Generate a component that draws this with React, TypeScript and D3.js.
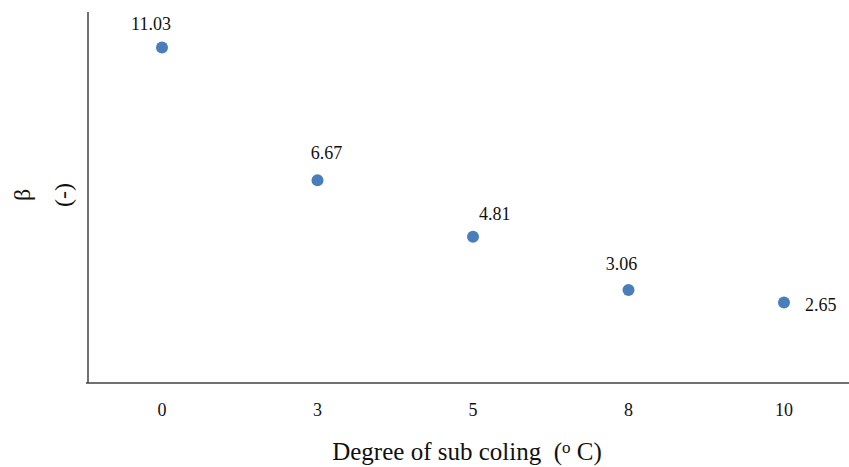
import { useEffect, useRef } from 'react';
import * as d3 from 'd3';

// sub-cooling degree categories and beta values
const categories = ['0', '3', '5', '8', '10'];
const betaValues = [11.03, 6.67, 4.81, 3.06, 2.65];

// label placement tweaks (dx, dy relative to point, anchor)
const labelPlacement: [number, number, string][] = [
  [-11, -18, 'middle'],
  [9, -21, 'middle'],
  [6, -17, 'start'],
  [-7, -20, 'middle'],
  [21, 9, 'start'],
];

export default function App() {
  const svgRef = useRef<SVGSVGElement>(null);

  useEffect(() => {
    if (!svgRef.current) return;
    const svg = d3.select(svgRef.current);
    svg.selectAll('*').remove();

    const width = 849;
    const axisLeft = 88;
    const axisBottom = 383;

    const x = d3.scalePoint<string>()
      .domain(categories)
      .range([162, 784]);

    const y = d3.scaleLinear()
      .domain([0, 12.2])
      .range([axisBottom, 12]);

    const fontFamily = '"Liberation Serif", "Times New Roman", serif';
    const axisColor = '#404040';

    // y axis line (no ticks)
    svg.append('line')
      .attr('x1', axisLeft).attr('x2', axisLeft)
      .attr('y1', y.range()[1]).attr('y2', axisBottom)
      .attr('stroke', axisColor)
      .attr('stroke-width', 1.5);

    // x axis line
    svg.append('line')
      .attr('x1', axisLeft - 2).attr('x2', width)
      .attr('y1', axisBottom).attr('y2', axisBottom)
      .attr('stroke', axisColor)
      .attr('stroke-width', 1.5);

    // x tick labels
    svg.append('g')
      .selectAll('text')
      .data(categories)
      .enter()
      .append('text')
      .attr('x', d => x(d) || 0)
      .attr('y', 416)
      .attr('text-anchor', 'middle')
      .style('font-family', fontFamily)
      .style('font-size', '18px')
      .attr('fill', '#111')
      .text(d => d);

    // points
    const pts = categories.map((c, i) => ({ c, v: betaValues[i], i }));

    svg.append('g')
      .selectAll('circle')
      .data(pts)
      .enter()
      .append('circle')
      .attr('cx', d => x(d.c) || 0)
      .attr('cy', d => y(d.v))
      .attr('r', 6)
      .attr('fill', '#4a7ebb');

    // value labels
    svg.append('g')
      .selectAll('text')
      .data(pts)
      .enter()
      .append('text')
      .attr('x', d => (x(d.c) || 0) + labelPlacement[d.i][0])
      .attr('y', d => y(d.v) + labelPlacement[d.i][1])
      .attr('text-anchor', d => labelPlacement[d.i][2])
      .style('font-family', fontFamily)
      .style('font-size', '18px')
      .attr('fill', '#111')
      .text(d => d.v.toFixed(2));

    // x axis title
    const title = svg.append('text')
      .attr('x', 467)
      .attr('y', 460)
      .attr('text-anchor', 'middle')
      .style('font-family', fontFamily)
      .style('font-size', '25px')
      .style('white-space', 'pre')
      .attr('fill', '#111');
    title.append('tspan').text('Degree of sub coling  (');
    title.append('tspan').attr('dy', -7).style('font-size', '17px').text('o');
    title.append('tspan').attr('dy', 7).text(' C)');

    // y axis title, two rotated pieces
    svg.append('text')
      .attr('transform', 'translate(30,195) rotate(-90)')
      .attr('text-anchor', 'middle')
      .style('font-family', fontFamily)
      .style('font-size', '24px')
      .attr('fill', '#111')
      .text('\u03B2');

    svg.append('text')
      .attr('transform', 'translate(71,195) rotate(-90)')
      .attr('text-anchor', 'middle')
      .style('font-family', fontFamily)
      .style('font-size', '24px')
      .attr('fill', '#111')
      .text('(-)');
  }, []);

  return (
    <svg
      ref={svgRef}
      width={849}
      height={467}
      style={{ position: 'absolute', left: 0, top: 0, background: '#fff' }}
    />
  );
}
